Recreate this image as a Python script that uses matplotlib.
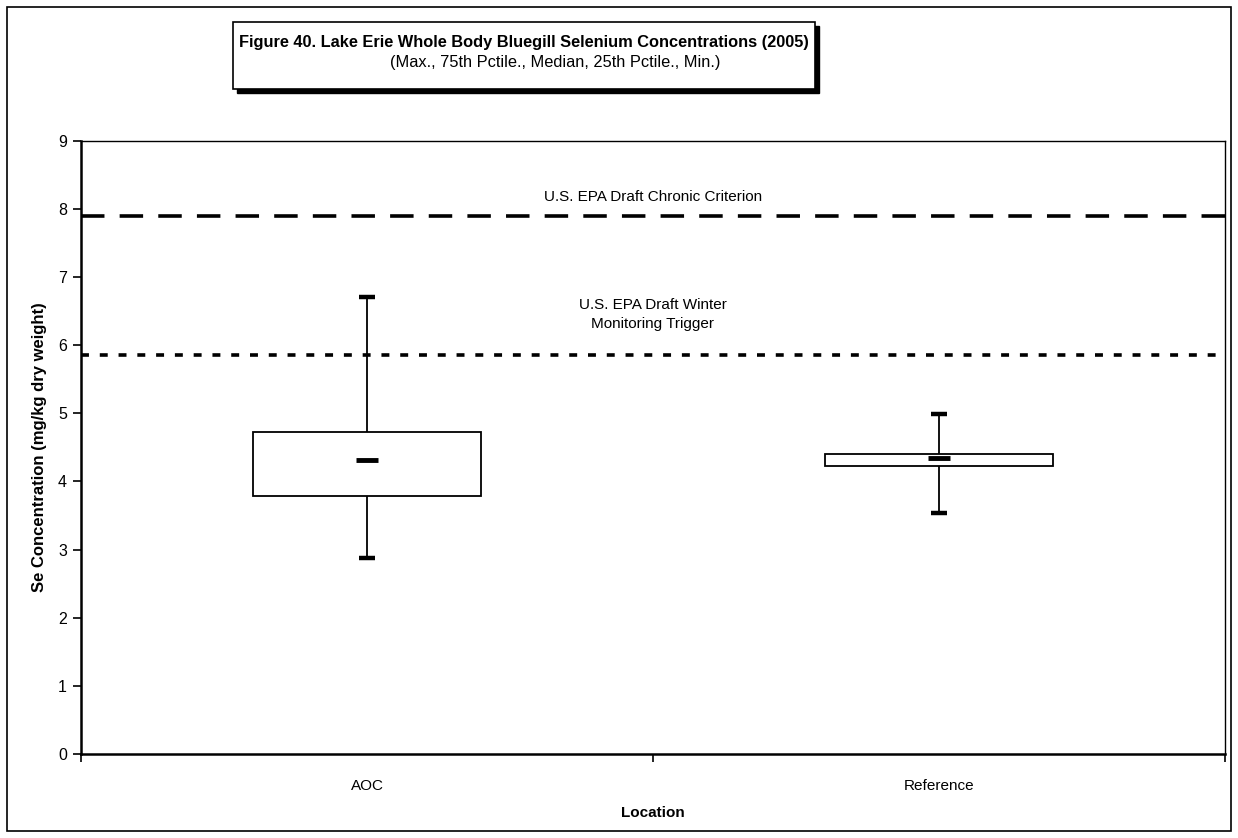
import matplotlib.pyplot as plt
from matplotlib.patches import Rectangle

plt.rcParams['font.family'] = ['Liberation Sans', 'DejaVu Sans']

# Data
locations = ["AOC", "Reference"]
se_max = [6.70, 4.99]
se_q3 = [4.72, 4.40]
se_median = [4.32, 4.34]
se_q1 = [3.79, 4.23]
se_min = [2.87, 3.53]

chronic_criterion = 7.9
winter_trigger = 5.86

fig = plt.figure(figsize=(12.38, 8.38), dpi=100)
ax = fig.add_axes([0.0654, 0.1002, 0.9241, 0.7319])

xpos = [0.5, 1.5]

# Whiskers, boxes, caps, medians
ax.vlines(xpos, se_min, se_max, color="black", linewidth=1.3, zorder=2)
ax.bar(xpos, [h - l for h, l in zip(se_q3, se_q1)], bottom=se_q1, width=0.4,
       facecolor="white", edgecolor="black", linewidth=1.3, zorder=3)
ax.plot(xpos, se_max, linestyle="none", marker="_", markersize=11,
        markeredgewidth=3.2, color="black", zorder=4)
ax.plot(xpos, se_min, linestyle="none", marker="_", markersize=11,
        markeredgewidth=3.2, color="black", zorder=4)
ax.plot(xpos, se_median, linestyle="none", marker="_", markersize=16,
        markeredgewidth=3.5, color="black", zorder=5)

# Reference lines
ax.axhline(chronic_criterion, color="black", linewidth=2.6, dashes=(6.5, 4.2), zorder=1)
ax.axhline(winter_trigger, color="black", linewidth=2.6, dashes=(2.2, 3.0), zorder=1)
ax.text(1.0, 8.18, "U.S. EPA Draft Chronic Criterion", ha="center", va="center",
        fontsize=11)
ax.text(1.0, 6.45, "U.S. EPA Draft Winter\nMonitoring Trigger", ha="center",
        va="center", fontsize=11, linespacing=1.5)

# Axes
ax.set_xlim(0, 2)
ax.set_ylim(0, 9)
ax.set_yticks(range(0, 10))
ax.set_xticks([0, 1, 2])
ax.set_xticklabels([])
ax.set_xticks(xpos, minor=True)
ax.set_xticklabels(locations, minor=True, fontsize=11)
ax.tick_params(axis="x", which="minor", length=0, pad=18)
ax.tick_params(axis="x", which="major", direction="out", length=6, width=1.2)
ax.tick_params(axis="y", direction="out", length=6, width=1.2, labelsize=11.5, pad=4)
ax.set_ylabel("Se Concentration (mg/kg dry weight)", fontsize=12,
              fontweight="bold", labelpad=8)
ax.set_xlabel("Location", fontsize=11, fontweight="bold", labelpad=9)
ax.spines["left"].set_linewidth(1.8)
ax.spines["bottom"].set_linewidth(1.8)
ax.spines["top"].set_linewidth(1)
ax.spines["right"].set_linewidth(1)

# Title box with shadow
W, H = 1238, 838
bx0, by0, bx1, by1 = 233, 22, 815, 89
fig.patches.append(Rectangle(((bx0 + 4) / W, 1 - (by1 + 4) / H), (bx1 - bx0) / W,
                             (by1 - by0) / H, transform=fig.transFigure,
                             facecolor="black", edgecolor="black", zorder=1))
fig.patches.append(Rectangle((bx0 / W, 1 - by1 / H), (bx1 - bx0) / W,
                             (by1 - by0) / H, transform=fig.transFigure,
                             facecolor="white", edgecolor="black", linewidth=1.2,
                             zorder=2))
fig.text((bx0 + bx1) / 2 / W, 1 - 42 / H,
         "Figure 40. Lake Erie Whole Body Bluegill Selenium Concentrations (2005)",
         ha="center", va="center", fontsize=11.8, fontweight="bold", zorder=3)
fig.text(555 / W, 1 - 62 / H,
         "(Max., 75th Pctile., Median, 25th Pctile., Min.)",
         ha="center", va="center", fontsize=11.8, zorder=3)

# Outer border
fig.patches.append(Rectangle((7 / W, 7 / H), 1 - 14 / W, 1 - 14 / H,
                             transform=fig.transFigure, fill=False,
                             edgecolor="black", linewidth=1.2))

fig.savefig("out.png", dpi=100)
